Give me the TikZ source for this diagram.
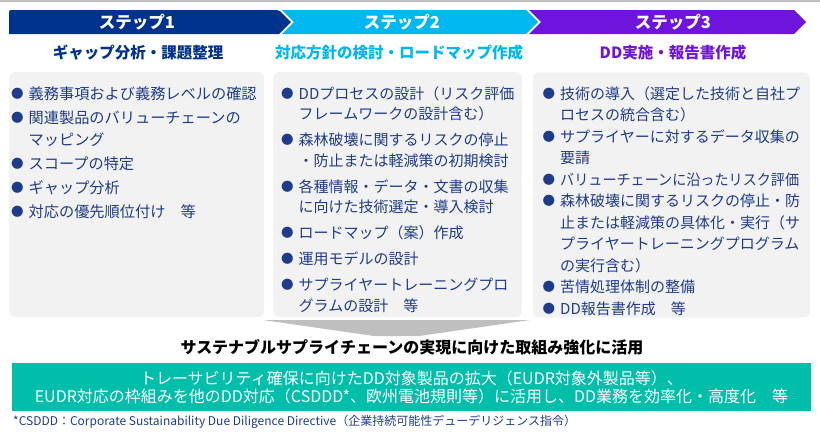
\documentclass[tikz,border=0pt]{standalone}
\usepackage{fontspec}
\setmainfont{Noto Sans CJK JP}
\usepackage{xcolor}
\usepackage{tikz}
\usetikzlibrary{positioning}
\definecolor{StepNavy}{HTML}{00338D}
\definecolor{StepCyan}{HTML}{00B7F0}
\definecolor{StepPurple}{HTML}{6E14DC}
\definecolor{ListBlue}{HTML}{1F3C8C}
\definecolor{PanelGray}{HTML}{F2F2F2}
\definecolor{FunnelGray}{HTML}{BFBFBF}
\definecolor{OutcomeTeal}{HTML}{00BFAA}
\newlength\bulw
\setlength\bulw{17.5pt}
\newcommand\itm[1]{{\let\\\newline\noindent\hangindent=\bulw\hangafter=1%
  \makebox[\bulw][l]{\raisebox{0.8pt}{\fontsize{12.5}{12.5}\selectfont ●}}#1\par}}
\newcommand\listsetup[1]{\setlength\parindent{0pt}\setlength\parskip{#1}}

\begin{document}
\begin{tikzpicture}[
  x=1pt, y=-1pt,
  banner/.style={text=white, font=\fontsize{16.5}{18}\selectfont\bfseries, inner sep=0},
  sub/.style={font=\fontsize{15.5}{18}\selectfont\bfseries, inner sep=0},
  panel/.style={fill=PanelGray, rounded corners=6pt, inner sep=0, minimum height=245pt},
  list/.style={anchor=north west, inner sep=0, align=left, text=ListBlue, text width=#1},
  outcome/.style={fill=OutcomeTeal, text=white, align=center, inner sep=0,
    minimum width=799pt, minimum height=48pt, font=\fontsize{16}{18}\selectfont}
]
  \useasboundingbox (0,0) rectangle (820,440);
  \draw[FunnelGray, line width=1.5pt] (0,0.75) -- (820,0.75);

  % step banners
  \fill[StepNavy, rounded corners=2pt] (9,34) -- (9,10) -- (279,10)
    [sharp corners] -- (291,22) -- (279,34) -- cycle;
  \fill[StepCyan] (282,10) -- (526,10) -- (538,22) -- (526,34) -- (282,34) -- (294,22) -- cycle;
  \fill[StepPurple] (529,10) -- (794,10) -- (806,22) -- (794,34) -- (529,34) -- (541,22) -- cycle;
  \node[banner] (st1) at (137,22) {ステップ1};
  \node[banner] (st2) at (402,22) {ステップ2};
  \node[banner] (st3) at (673,22) {ステップ3};

  \node[sub, text=StepNavy] (sub1) at (138,53) {ギャップ分析・課題整理};
  \node[sub, text=StepCyan] (sub2) at (399,53) {対応方針の検討・ロードマップ作成};
  \node[sub, text=StepPurple] (sub3) at (673,53) {DD実施・報告書作成};

  % funnel under the panels
  \fill[FunnelGray] (263,320) -- (530,320) -- (419,336) -- (374,336) -- cycle;

  \node[panel, minimum width=255pt] (box1) at (136.5,194.5) {};
  \node[panel, minimum width=249pt] (box2) at (397.5,194.5) {};
  \node[panel, minimum width=277pt] (box3) at (671.5,195) {};

  \node[list=252pt, font=\fontsize{15.2}{22}\selectfont] (list1) at (11,86) {%
    \listsetup{2pt}%
    \itm{義務事項および義務レベルの確認}
    \itm{関連製品のバリューチェーンの\\マッピング}
    \itm{スコープの特定}
    \itm{ギャップ分析}
    \itm{対応の優先順位付け　等}};
  \node[list=240pt, font=\fontsize{15}{20.5}\selectfont] (list2) at (281,86) {%
    \listsetup{5.5pt}%
    \itm{DDプロセスの設計（リスク評価\\フレームワークの設計含む）}
    \itm{森林破壊に関するリスクの停止\\・防止または軽減策の初期検討}
    \itm{各種情報・データ・文書の収集\\に向けた技術選定・導入検討}
    \itm{ロードマップ（案）作成}
    \itm{運用モデルの設計}
    \itm{サプライヤートレーニングプロ\\グラムの設計　等}};
  \node[list=265pt, font=\fontsize{15}{21.5}\selectfont] (list3) at (542.5,86) {%
    \listsetup{0pt}%
    \itm{技術の導入（選定した技術と自社プ\\ロセスの統合含む）}
    \itm{サプライヤーに対するデータ収集の\\要請}
    \itm{\scalebox{0.94}[1]{バリューチェーンに沿ったリスク評価}}
    \itm{森林破壊に関するリスクの停止・防\\止または軽減策の具体化・実行（サ\\プライヤートレーニングプログラム\\の実行含む）}
    \itm{苦情処理体制の整備}
    \itm{DD報告書作成　等}};

  \node[font=\fontsize{16}{18}\selectfont\bfseries, inner sep=0] (goal) at (412,347)
    {サステナブルサプライチェーンの実現に向けた取組み強化に活用};
  \node[outcome] (result) at (411.5,387)
    {トレーサビリティ確保に向けたDD対象製品の拡大（EUDR対象外製品等）、\\
     EUDR対応の枠組みを他のDD対応（CSDDD*、欧州電池規則等）に活用し、DD業務を効率化・高度化　等};
  \node[anchor=west, inner sep=0, text=ListBlue, font=\fontsize{12}{14}\selectfont] (note) at (13,422)
    {*CSDDD：Corporate Sustainability Due Diligence Directive（企業持続可能性デューデリジェンス指令）};
\end{tikzpicture}
\end{document}
